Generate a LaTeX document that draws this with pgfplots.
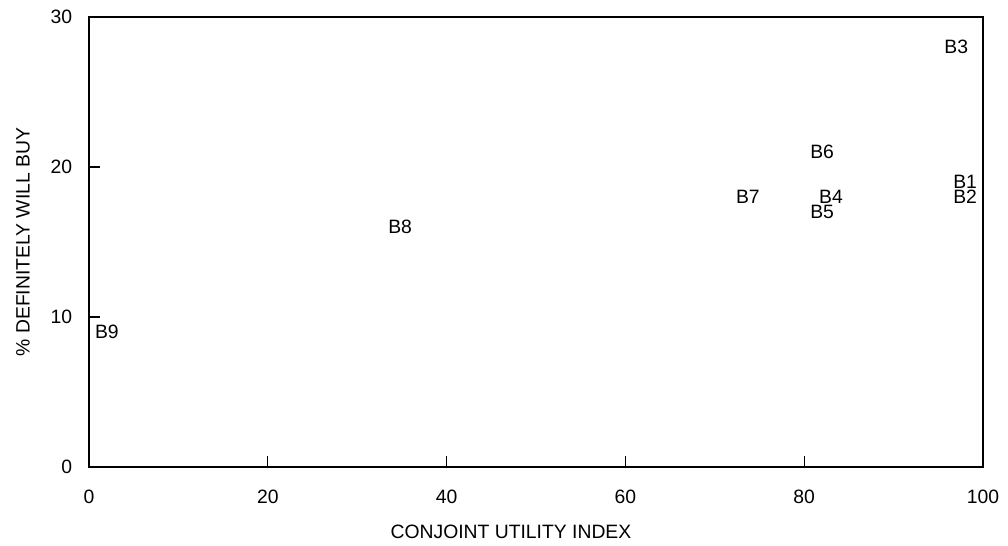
\documentclass[border=0pt]{standalone}
\usepackage{fontspec}
\setmainfont{Liberation Sans}
\usepackage{pgfplots}
\pgfplotsset{compat=1.18}
\begin{document}
\begin{tikzpicture}[x=1pt,y=1pt]
\begin{axis}[
  name=ax,
  scale only axis,
  width=670.5pt, height=337.5pt,
  xmin=0, xmax=100, ymin=0, ymax=30,
  xtick={0,20,40,60,80,100},
  ytick={0,10,20,30},
  tick pos=left,
  tick align=inside,
  major tick length=8.5pt,
  axis line style={line width=1pt},
  every tick/.style={line width=1pt, black},
  /pgf/number format/assume math mode=true,
  font=\fontsize{14.5}{17}\selectfont,
  yticklabel style={inner sep=0pt, anchor=east, xshift=-12.5pt},
  xticklabel style={inner sep=0pt, anchor=north, yshift=-17pt},
  xlabel={CONJOINT UTILITY INDEX},
  ylabel={\% DEFINITELY WILL BUY},
  xlabel style={at={(axis description cs:0.472,-0.1444)}, anchor=center, inner sep=0pt},
  ylabel style={at={(axis description cs:-0.0738,0.5)}, anchor=center, inner sep=0pt, rotate=0},
  clip=false,
]
\addplot[only marks, mark=none,
  nodes near coords,
  point meta=explicit symbolic,
  every node near coord/.style={anchor=center, inner sep=0pt, font=\fontsize{14.5}{17}\selectfont}]
  table[meta=label] {
x y label
98 19 B1
98 18 B2
97 28 B3
83 18 B4
82 17 B5
82 21 B6
73.7 18 B7
34.8 16 B8
2 9 B9
};
\end{axis}
\path (ax.south west) ++(-66.75pt,-59.25pt) coordinate (bl);
\path (ax.south west) ++(689.25pt,350.25pt) coordinate (tr);
\path (bl) rectangle (tr);
\end{tikzpicture}
\end{document}
